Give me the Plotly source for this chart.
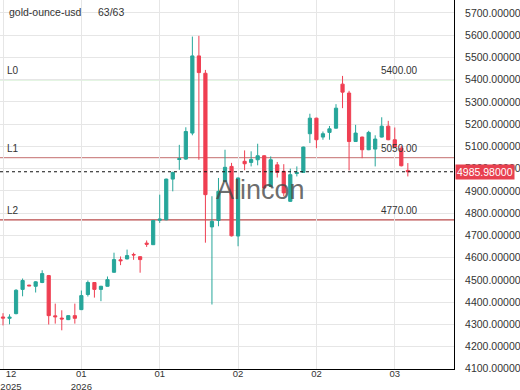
import plotly.graph_objects as go

# ---- data ----
idx = list(range(63))
opens = [4333, 4327, 4348, 4457, 4476, 4471, 4488, 4519, 4338, 4328,
         4321, 4339, 4366, 4434, 4488, 4457, 4471, 4534, 4590, 4594,
         4614, 4604, 4665, 4658, 4768, 4770, 4953, 5041, 5043, 5160,
         5507, 5429, 4738, 4767, 4942, 5010, 4697, 5033, 5028, 5040,
         5058, 4920, 5017, 4988, 4853, 4978, 4983, 5157, 5227, 5142,
         5163, 5182, 5380, 5340, 5122, 5142, 5085, 5088, 5142, 5191,
         5130, 5092, 4992]
highs = [4350, 4345, 4458, 4506, 4478, 4494, 4543, 4522, 4393, 4363,
         4341, 4393, 4452, 4497, 4490, 4473, 4515, 4622, 4605, 4636,
         4622, 4606, 4677, 4769, 4883, 4955, 4986, 5107, 5186, 5594,
         5597, 5444, 4876, 4958, 5085, 5026, 4960, 5082, 5078, 5112,
         5060, 5055, 5030, 5020, 5000, 5010, 5099, 5247, 5229, 5167,
         5192, 5290, 5417, 5350, 5197, 5144, 5170, 5150, 5231, 5215,
         5185, 5102, 5025]
lows = [4295, 4300, 4345, 4426, 4472, 4443, 4485, 4299, 4303, 4273,
        4319, 4303, 4364, 4425, 4420, 4404, 4470, 4532, 4566, 4592,
        4590, 4532, 4648, 4657, 4756, 4768, 4898, 4995, 5040, 5150,
        5040, 4667, 4389, 4741, 4940, 4695, 4651, 4993, 5010, 5015,
        4910, 4918, 4960, 4876, 4850, 4965, 4982, 5115, 5092, 5130,
        5130, 5180, 5272, 4992, 5120, 5047, 5083, 5010, 5140, 5128,
        5095, 5010, 4965]
closes = [4328, 4332, 4453, 4497, 4473, 4491, 4528, 4339, 4334, 4324,
          4339, 4327, 4429, 4488, 4457, 4471, 4501, 4591, 4586, 4609,
          4612, 4591, 4660, 4767, 4773, 4953, 4983, 5045, 5167, 5507,
          5432, 4883, 4763, 4898, 5006, 4698, 4958, 5022, 5041, 5058,
          4913, 5040, 4983, 4891, 4973, 4982, 5097, 5227, 5130, 5157,
          5179, 5272, 5344, 5122, 5160, 5085, 5163, 5133, 5191, 5130,
          5097, 5013, 4985.98]

tick_pos = [0, 12, 24, 36, 48, 60]
tick_text = ["\u00a0\u00a0\u00a0\u00a0\u00a0\u00a012<br>\u00a0\u00a0\u00a0\u00a0\u00a0\u00a02025",
             "01<br>2026", "01", "02", "02", "03"]

levels = [5400, 5050, 4770]
level_names = ["L0", "L1", "L2"]
level_colors = ["#93d58e", "#cf8a8a", "#b94a4a"]
last_price = 4985.98
symbol = "gold-ounce-usd"
count_text = "63/63"
watermark = "Alincon"

UP = "#26a69a"
DOWN = "#ef3f52"
FONT = "Arial, Liberation Sans, sans-serif"

fig = go.Figure()
fig.add_trace(go.Candlestick(
    x=idx, open=opens, high=highs, low=lows, close=closes,
    increasing=dict(line=dict(color=UP, width=1), fillcolor=UP),
    decreasing=dict(line=dict(color=DOWN, width=1), fillcolor=DOWN),
    whiskerwidth=0, showlegend=False, hoverinfo="skip"))

shapes = []
annotations = []
for lv, nm, col in zip(levels, level_names, level_colors):
    shapes.append(dict(type="line", xref="paper", x0=0, x1=1, yref="y", y0=lv, y1=lv,
                       line=dict(color=col, width=1.3), layer="below"))
    annotations.append(dict(text=nm, xref="paper", x=0, xanchor="left", xshift=5,
                            yref="y", y=lv, yanchor="bottom", yshift=2, showarrow=False,
                            font=dict(size=10, color="#333", family=FONT)))
    annotations.append(dict(text=f"{lv:.2f}", xref="paper", x=0.834, xanchor="left",
                            yref="y", y=lv, yanchor="bottom", yshift=2, showarrow=False,
                            font=dict(size=10, color="#333", family=FONT)))

shapes.append(dict(type="line", xref="paper", x0=0, x1=1, yref="y", y0=last_price, y1=last_price,
                   line=dict(color="#111", width=1, dash="3px,3px")))
annotations.append(dict(text=f"{last_price:.5f}", xref="paper", x=1, xanchor="left", xshift=1,
                        yref="y", y=last_price, yanchor="middle", showarrow=False,
                        bgcolor="#e8404f", borderpad=1,
                        font=dict(size=10.5, color="white", family=FONT)))
annotations.append(dict(text=symbol, xref="paper", x=0, xanchor="left", xshift=7,
                        yref="paper", y=1, yanchor="middle", yshift=-12, showarrow=False,
                        font=dict(size=10.5, color="#333", family=FONT)))
annotations.append(dict(text=count_text, xref="paper", x=0, xanchor="left", xshift=96,
                        yref="paper", y=1, yanchor="middle", yshift=-12, showarrow=False,
                        font=dict(size=10.5, color="#333", family=FONT)))
annotations.append(dict(text=watermark, xref="paper", x=0.573, xanchor="center",
                        yref="paper", y=0.485, yanchor="middle", showarrow=False,
                        font=dict(size=27, color="rgba(70,70,70,0.8)", family=FONT)))

fig.update_layout(
    width=520, height=390,
    margin=dict(l=0, r=66, t=0, b=21, autoexpand=False),
    paper_bgcolor="white", plot_bgcolor="white",
    font=dict(family=FONT, size=11, color="#333"),
    shapes=shapes, annotations=annotations,
    xaxis=dict(range=[-0.46, 69.07], tickmode="array", tickvals=tick_pos, ticktext=tick_text,
               showgrid=True, gridcolor="#e6e6e6", gridwidth=1, zeroline=False,
               showline=True, linecolor="black", linewidth=1, ticks="",
               rangeslider=dict(visible=False), tickfont=dict(size=9.5, color="#333"),
               automargin=False, ticklabeloverflow="allow", ticklabelstandoff=-4,
               fixedrange=True),
    yaxis=dict(side="right", range=[4099.0, 5758.4], dtick=100, tick0=4100,
               tickformat=".5f", showgrid=True, gridcolor="#e6e6e6", gridwidth=1,
               zeroline=False, showline=True, linecolor="black", linewidth=1, ticks="",
               automargin=False,
               tickfont=dict(size=10.5, color="#333"), ticklabelstandoff=8),
)

fig.write_html("out.html")
